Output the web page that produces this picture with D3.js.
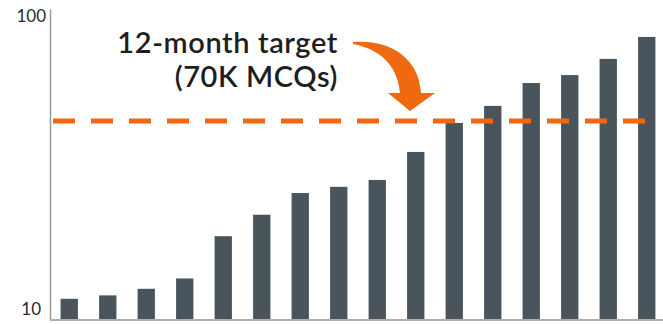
<!DOCTYPE html>
<html>
<head>
<meta charset="utf-8">
<script src="https://cdn.jsdelivr.net/npm/d3@7"></script>
<style>
  html, body { margin: 0; padding: 0; background: #fff; }
  svg { display: block; font-family: Lato, "Open Sans", sans-serif; }
</style>
</head>
<body>
<div id="chart"></div>
<script>
// Width and height
var w = 663;
var h = 324;

// data (log scale, 10 - 100)
var months = d3.range(1, 17);
var values = [11.7, 12.0, 12.6, 13.6, 18.6, 21.8, 25.6, 26.8, 28.2, 34.7, 43.0, 48.8, 57.8, 61.3, 69.1, 81.3];
var target = [43.6];
var tickValues = [10, 100];
var noteLines = ["12-month target", "(70K MCQs)"];

var x = d3.scaleBand()
  .domain(months)
  .range([50, 666])
  .paddingInner(0.55)
  .paddingOuter(0.275);

var y = d3.scaleLog()
  .domain([10, 100])
  .range([320, 9]);

var svg = d3.select("#chart")
  .append("svg")
  .attr("width", w)
  .attr("height", h);

// bars
svg.selectAll("rect.bar")
  .data(values)
  .enter()
  .append("rect")
  .attr("class", "bar")
  .attr("x", function (d, i) { return x(months[i]); })
  .attr("y", function (d) { return y(d); })
  .attr("width", x.bandwidth())
  .attr("height", function (d) { return y(10) - y(d); })
  .attr("fill", "#4a545d");

// y axis
var yAxis = svg.append("g")
  .attr("transform", "translate(50,0)")
  .call(d3.axisLeft(y).tickValues(tickValues).tickFormat(d3.format("d")).tickSize(0).tickSizeOuter(0).tickPadding(4));

yAxis.select(".domain")
  .attr("stroke", "#9a9a9a")
  .attr("stroke-width", 1.5);

yAxis.selectAll("text")
  .attr("font-family", "Lato, sans-serif")
  .attr("font-size", 17)
  .attr("fill", "#2a2a2a")
  .attr("x", function (d) { return d == 10 ? -9 : -4; })
  .attr("dy", function (d) { return d == 10 ? "-0.3em" : "0.72em"; });

// baseline
svg.append("line")
  .attr("x1", 50)
  .attr("x2", w)
  .attr("y1", y(10))
  .attr("y2", y(10))
  .attr("stroke", "#aeaeae")
  .attr("stroke-width", 2);

// target line
svg.selectAll("line.target")
  .data(target)
  .enter()
  .append("line")
  .attr("class", "target")
  .attr("x1", 53)
  .attr("x2", 646)
  .attr("y1", function (d) { return y(d); })
  .attr("y2", function (d) { return y(d); })
  .attr("stroke", "#f0680f")
  .attr("stroke-width", 5)
  .attr("stroke-dasharray", "22,16");

// note
svg.append("text")
  .attr("x", 338)
  .attr("y", 53)
  .attr("text-anchor", "end")
  .attr("font-size", 29)
  .attr("font-weight", 600)
  .attr("letter-spacing", 0.6)
  .attr("fill", "#1e1e1e")
  .selectAll("tspan")
  .data(noteLines)
  .enter()
  .append("tspan")
  .attr("x", 338)
  .attr("dy", function (d, i) { return i == 0 ? 0 : 34; })
  .text(function (d) { return d; });

// curved arrow
svg.append("path")
  .attr("d", "M353,42 C386,39 419,55 421,93 L435,93 L410,111 L388,93 L400,93 C398,70 385,50 353,44 Z")
  .attr("fill", "#f0680f");
</script>
</body>
</html>
